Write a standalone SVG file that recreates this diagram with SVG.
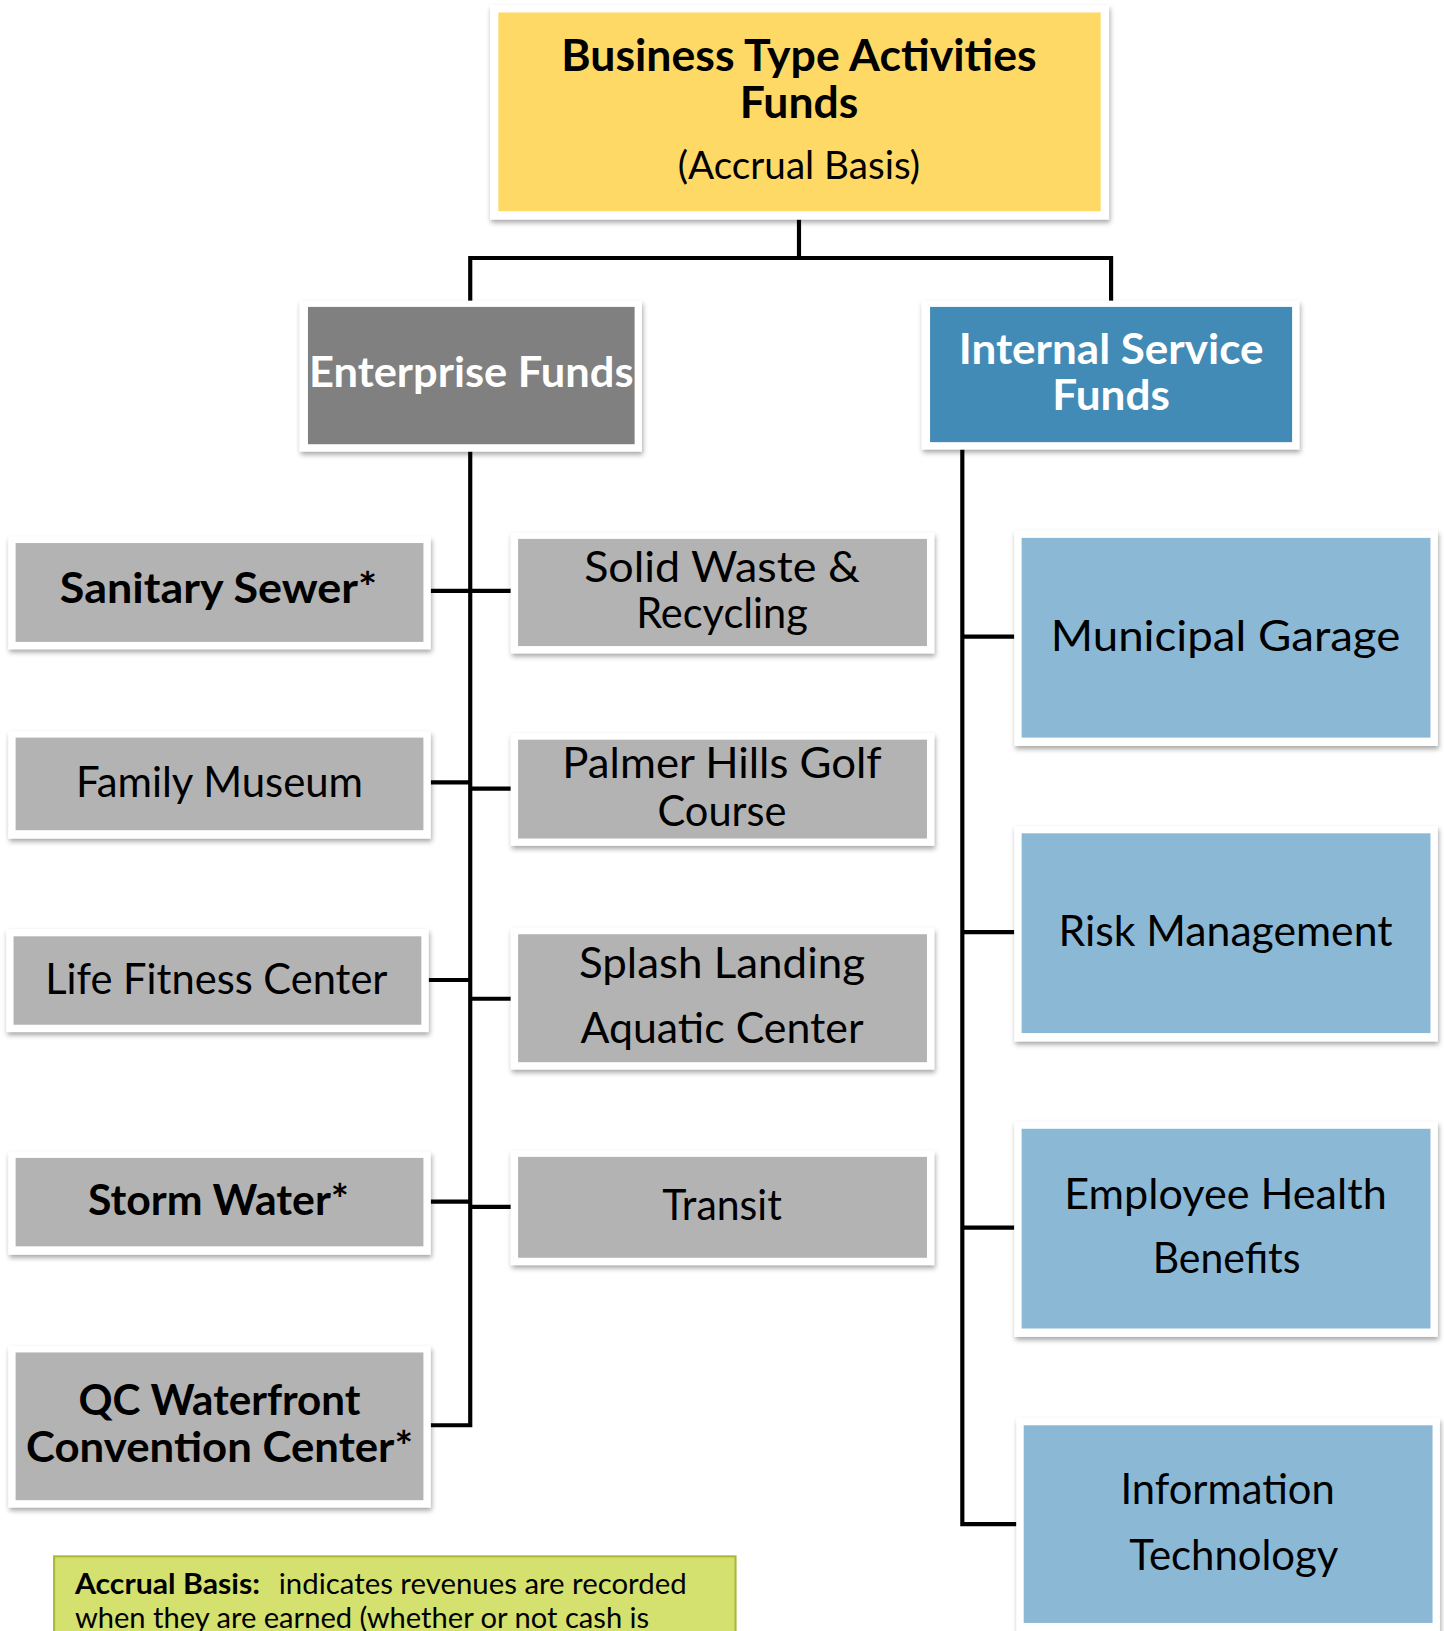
<svg xmlns="http://www.w3.org/2000/svg" width="1444" height="1631" viewBox="0 0 1444 1631">
<defs>
<filter id="sh" x="-10%" y="-10%" width="120%" height="130%">
<feDropShadow dx="1" dy="3" stdDeviation="2.5" flood-color="#000" flood-opacity="0.35"/>
</filter>
</defs>
<style>
.frame{fill:#ffffff;filter:url(#sh)}
.t{font-family:Lato,"Noto Sans","Liberation Sans",sans-serif;text-anchor:middle;fill:#000}
.n{font-family:Lato,"Noto Sans","Liberation Sans",sans-serif;font-size:27px;fill:#000}
.b{font-weight:bold}
.w{fill:#ffffff}
.gray{fill:#b3b3b3}
.lb{fill:#8bb9d5}
.conn{fill:none;stroke:#000;stroke-width:4;stroke-linejoin:miter;stroke-linecap:butt}
</style>
<rect width="1444" height="1631" fill="#ffffff"/>
<g transform="scale(1.040346)">
<g id="connectors">
<path class="conn" d="M768,211 V248"/>
<path class="conn" d="M452,290 V248 H1068 V290"/>
<path class="conn" d="M452,434 V1370 H414"/>
<path class="conn" d="M414,568 H452 M414,752 H452 M412,942 H452 M414,1155 H452"/>
<path class="conn" d="M452,568 H491 M452,758 H491 M452,960 H491 M452,1160 H491"/>
<path class="conn" d="M925,432 V1465 H977"/>
<path class="conn" d="M925,612 H975 M925,896 H975 M925,1180 H975"/>
</g>
<g id="node-bta">
<rect class="frame" x="471" y="5" width="595" height="206"/>
<rect x="479" y="12" width="579" height="191" fill="#ffd966"/>
<text class="t b" x="768" y="68" font-size="42" textLength="457" lengthAdjust="spacingAndGlyphs">Business Type Activities</text>
<text class="t b" x="768" y="113" font-size="42" textLength="114" lengthAdjust="spacingAndGlyphs">Funds</text>
<text class="t" x="768" y="172" font-size="38" textLength="233" lengthAdjust="spacingAndGlyphs">(Accrual Basis)</text>
</g>
<g id="node-enterprise">
<rect class="frame" x="288" y="289" width="329" height="145"/>
<rect x="296" y="295" width="314" height="132" fill="#808080"/>
<text class="t b w" x="453" y="372" font-size="40" textLength="312" lengthAdjust="spacingAndGlyphs">Enterprise Funds</text>
</g>
<g id="node-isf">
<rect class="frame" x="886" y="289" width="363" height="143"/>
<rect x="894" y="295" width="348" height="130" fill="#428bb6"/>
<text class="t b w" x="1068" y="350" font-size="40" textLength="293" lengthAdjust="spacingAndGlyphs">Internal Service</text>
<text class="t b w" x="1068" y="394" font-size="40" textLength="113" lengthAdjust="spacingAndGlyphs">Funds</text>
</g>
<g id="node-sanitary">
<rect class="frame" x="8" y="516" width="406" height="108"/>
<rect class="gray" x="15" y="522" width="392" height="95"/>
<text class="t b" x="210" y="580" font-size="40" textLength="305" lengthAdjust="spacingAndGlyphs">Sanitary Sewer*</text>
</g>
<g id="node-family">
<rect class="frame" x="8" y="703" width="406" height="103"/>
<rect class="gray" x="15" y="709" width="392" height="89"/>
<text class="t" x="211" y="766" font-size="40" textLength="276" lengthAdjust="spacingAndGlyphs">Family Museum</text>
</g>
<g id="node-life">
<rect class="frame" x="6" y="893" width="406" height="99"/>
<rect class="gray" x="13" y="900" width="392" height="85"/>
<text class="t" x="208" y="955" font-size="40" textLength="329" lengthAdjust="spacingAndGlyphs">Life Fitness Center</text>
</g>
<g id="node-storm">
<rect class="frame" x="8" y="1107" width="406" height="99"/>
<rect class="gray" x="15" y="1113" width="392" height="85"/>
<text class="t b" x="210" y="1168" font-size="40" textLength="251" lengthAdjust="spacingAndGlyphs">Storm Water*</text>
</g>
<g id="node-qc">
<rect class="frame" x="8" y="1294" width="406" height="155"/>
<rect class="gray" x="15" y="1300" width="392" height="142"/>
<text class="t b" x="211" y="1360" font-size="40" textLength="271" lengthAdjust="spacingAndGlyphs">QC Waterfront</text>
<text class="t b" x="211" y="1405" font-size="40" textLength="372" lengthAdjust="spacingAndGlyphs">Convention Center*</text>
</g>
<g id="node-solid">
<rect class="frame" x="491" y="512" width="407" height="116"/>
<rect class="gray" x="498" y="518" width="393" height="103"/>
<text class="t" x="694" y="559" font-size="40" textLength="265" lengthAdjust="spacingAndGlyphs">Solid Waste &amp;</text>
<text class="t" x="694" y="604" font-size="40" textLength="165" lengthAdjust="spacingAndGlyphs">Recycling</text>
</g>
<g id="node-palmer">
<rect class="frame" x="491" y="705" width="407" height="108"/>
<rect class="gray" x="498" y="711" width="393" height="95"/>
<text class="t" x="694" y="748" font-size="40" textLength="307" lengthAdjust="spacingAndGlyphs">Palmer Hills Golf</text>
<text class="t" x="694" y="794" font-size="40" textLength="124" lengthAdjust="spacingAndGlyphs">Course</text>
</g>
<g id="node-splash">
<rect class="frame" x="491" y="892" width="407" height="136"/>
<rect class="gray" x="498" y="898" width="393" height="123"/>
<text class="t" x="694" y="940" font-size="40" textLength="275" lengthAdjust="spacingAndGlyphs">Splash Landing</text>
<text class="t" x="694" y="1003" font-size="40" textLength="272" lengthAdjust="spacingAndGlyphs">Aquatic Center</text>
</g>
<g id="node-transit">
<rect class="frame" x="491" y="1106" width="407" height="110"/>
<rect class="gray" x="498" y="1112" width="393" height="97"/>
<text class="t" x="694" y="1173" font-size="40" textLength="115" lengthAdjust="spacingAndGlyphs">Transit</text>
</g>
<g id="node-garage">
<rect class="frame" x="975" y="510" width="407" height="207"/>
<rect class="lb" x="982" y="517" width="393" height="192"/>
<text class="t" x="1178" y="626" font-size="40" textLength="336" lengthAdjust="spacingAndGlyphs">Municipal Garage</text>
</g>
<g id="node-risk">
<rect class="frame" x="975" y="794" width="407" height="207"/>
<rect class="lb" x="982" y="801" width="393" height="192"/>
<text class="t" x="1178" y="909" font-size="40" textLength="321" lengthAdjust="spacingAndGlyphs">Risk Management</text>
</g>
<g id="node-health">
<rect class="frame" x="975" y="1078" width="407" height="207"/>
<rect class="lb" x="982" y="1085" width="393" height="192"/>
<text class="t" x="1178" y="1162" font-size="40" textLength="310" lengthAdjust="spacingAndGlyphs">Employee Health</text>
<text class="t" x="1179" y="1224" font-size="40" textLength="142" lengthAdjust="spacingAndGlyphs">Benefits</text>
</g>
<g id="node-it">
<rect class="frame" x="977" y="1363" width="407" height="230"/>
<rect class="lb" x="984" y="1370" width="393" height="190"/>
<text class="t" x="1180" y="1446" font-size="40" textLength="206" lengthAdjust="spacingAndGlyphs">Information</text>
<text class="t" x="1186" y="1509" font-size="40" textLength="201" lengthAdjust="spacingAndGlyphs">Technology</text>
</g>
<g id="note">
<rect x="52" y="1496" width="655" height="100" fill="#d4e16f" stroke="#a9b837" stroke-width="2"/>
<text class="n b" x="72" y="1532" textLength="178" lengthAdjust="spacingAndGlyphs">Accrual Basis:</text>
<text class="n" x="268" y="1532" textLength="392" lengthAdjust="spacingAndGlyphs">indicates revenues are recorded</text>
<text class="n" x="72" y="1565" textLength="552" lengthAdjust="spacingAndGlyphs">when they are earned (whether or not cash is</text>
</g>
</g>
</svg>
